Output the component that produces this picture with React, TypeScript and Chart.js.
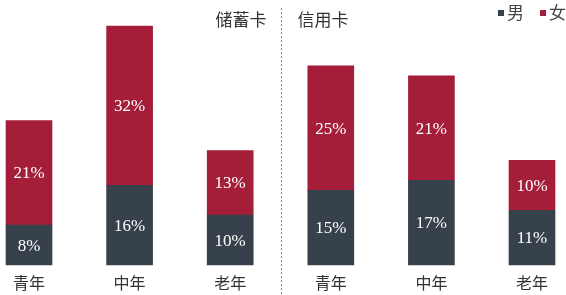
import React, { useEffect, useRef } from "react";
import { Chart, registerables } from "chart.js";

Chart.register(...registerables);

const categories = ["青年", "中年", "老年", "青年", "中年", "老年"];
const groupTitles = ["储蓄卡", "信用卡"];
const seriesNames = ["男", "女"];
const maleValues = [8, 16, 10, 15, 17, 11];
const femaleValues = [21, 32, 13, 25, 21, 10];

const DARK = "#37414b";
const RED = "#a51e39";
const CJK = '"Noto Sans CJK SC", "Noto Sans", sans-serif';

const overlayPlugin = {
  id: "overlay",
  afterDatasetsDraw(chart: any) {
    const ctx = chart.ctx;
    ctx.save();
    // value labels
    ctx.font = '17px "Liberation Serif", serif';
    ctx.fillStyle = "#ffffff";
    ctx.textAlign = "center";
    ctx.textBaseline = "middle";
    chart.data.datasets.forEach((ds: any, di: number) => {
      const meta = chart.getDatasetMeta(di);
      meta.data.forEach((el: any, i: number) => {
        const v = ds.data[i];
        const cy = (el.y + el.base) / 2;
        ctx.fillText(v + "%", el.x, cy + 1);
      });
    });
    // divider between groups
    const x = chart.scales.x;
    const divX = Math.round((x.getPixelForValue(2) + x.getPixelForValue(3)) / 2) + 0.5;
    ctx.strokeStyle = "#8a8a8a";
    ctx.lineWidth = 1;
    ctx.setLineDash([2, 2]);
    ctx.beginPath();
    ctx.moveTo(divX, 8);
    ctx.lineTo(divX, chart.height);
    ctx.stroke();
    ctx.setLineDash([]);
    // group titles
    ctx.font = "17px " + CJK;
    ctx.fillStyle = "#333333";
    ctx.textBaseline = "middle";
    ctx.textAlign = "right";
    ctx.fillText(groupTitles[0], divX - 15, 20);
    ctx.textAlign = "left";
    ctx.fillText(groupTitles[1], divX + 16, 20);
    // legend
    const colors = [DARK, RED];
    const legendX = [498, 540];
    ctx.font = "17px " + CJK;
    ctx.textAlign = "left";
    seriesNames.forEach((name, i) => {
      ctx.fillStyle = colors[i];
      ctx.fillRect(legendX[i], 10, 6, 6);
      ctx.fillStyle = "#444444";
      ctx.fillText(name, legendX[i] + 9, 13);
    });
    ctx.restore();
  },
};

export default function App() {
  const ref = useRef<HTMLCanvasElement | null>(null);
  useEffect(() => {
    if (!ref.current) return;
    const chart = new Chart(ref.current, {
      type: "bar",
      data: {
        labels: categories,
        datasets: [
          {
            label: seriesNames[0],
            data: maleValues,
            backgroundColor: DARK,
            barThickness: 46,
            clip: false as any,
          },
          {
            label: seriesNames[1],
            data: femaleValues,
            backgroundColor: RED,
            barThickness: 46,
            clip: false as any,
          },
        ],
      },
      options: {
        responsive: false,
        animation: false,
        devicePixelRatio: 1,
        layout: { padding: { left: 29, right: 34, top: 16, bottom: 0 } },
        plugins: {
          legend: { display: false },
          tooltip: { enabled: false },
        },
        scales: {
          x: {
            stacked: true,
            offset: false,
            grid: { display: false, drawTicks: false },
            border: { display: false },
            ticks: {
              color: "#333333",
              font: { family: CJK, size: 16 },
              padding: 8,
              maxRotation: 0,
              autoSkip: false,
            },
            afterFit: (s: any) => {
              s.height = 30;
            },
          },
          y: {
            stacked: true,
            display: false,
            min: 0,
            max: 50,
          },
        },
      },
      plugins: [overlayPlugin],
    });
    return () => chart.destroy();
  }, []);
  return (
    <div style={{ position: "absolute", left: 0, top: 0, width: 566, height: 295, background: "#fff" }}>
      <canvas ref={ref} width={566} height={295} />
    </div>
  );
}
